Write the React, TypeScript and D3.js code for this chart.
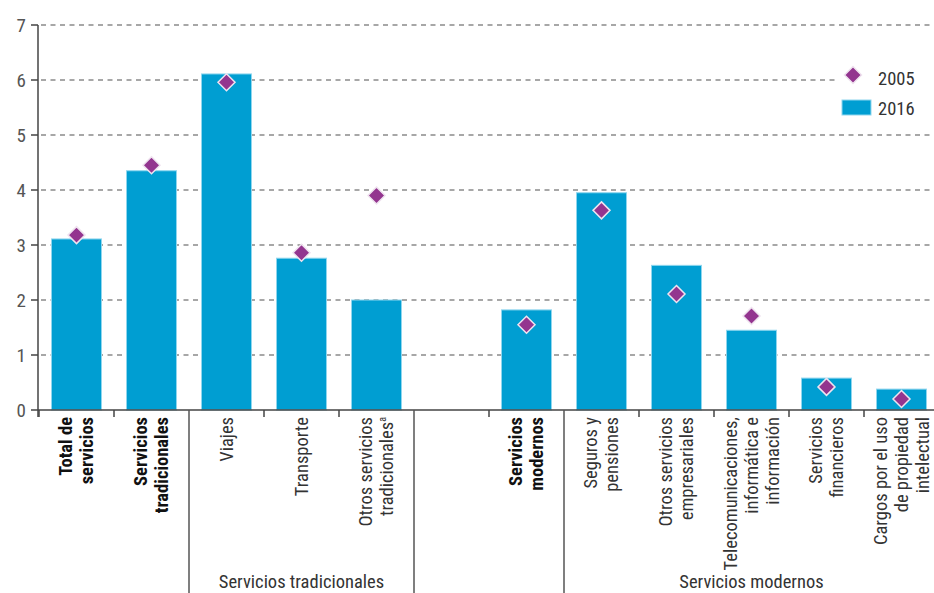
import React from "react";
import * as d3 from "d3";

const categories: string[][] = [
  ["Total de", "servicios"],
  ["Servicios", "tradicionales"],
  ["Viajes"],
  ["Transporte"],
  ["Otros servicios", "tradicionales"],
  [],
  ["Servicios", "modernos"],
  ["Seguros y", "pensiones"],
  ["Otros servicios", "empresariales"],
  ["Telecomunicaciones,", "informática e", "información"],
  ["Servicios", "financieros"],
  ["Cargos por el uso", "de propiedad", "intelectual"],
];
const boldCats = [true, true, false, false, false, false, true, false, false, false, false, false];
const superscripts = ["", "", "", "", "a", "", "", "", "", "", "", ""];
const values2016: (number | null)[] = [3.11, 4.35, 6.11, 2.76, 2.0, null, 1.82, 3.95, 2.63, 1.45, 0.58, 0.38];
const values2005: (number | null)[] = [3.18, 4.45, 5.96, 2.86, 3.9, null, 1.55, 3.63, 2.11, 1.71, 0.42, 0.2];
const yTicks = [0, 1, 2, 3, 4, 5, 6, 7];
const groupLabels = ["Servicios tradicionales", "Servicios modernos"];
const groupRanges = [[2, 5], [7, 12]];
const separators = [2, 5, 7];
const legendLabels = ["2005", "2016"];

const W = 934;
const H = 593;
const FONT = "'Liberation Sans Narrow', 'Roboto Condensed', 'Arial Narrow', sans-serif";
const BAR = "#009ed2";
const DIAM = "#93358f";

export default function App() {
  const keys = categories.map((_, i) => String(i));
  const x = d3.scaleBand<string>().domain(keys).range([39, 939]).paddingInner(1 / 3).paddingOuter(1 / 6);
  const y = d3.scaleLinear().domain([0, 7]).range([410, 25]);
  const step = x.step();
  const bw = x.bandwidth();
  const left = 39;
  const boundary = (i: number) => left + i * step;
  const ds = 8.5;

  return (
    <svg width={W} height={H} style={{ position: "absolute", left: 0, top: 0, background: "#fff" }} fontFamily={FONT}>
      {/* gridlines */}
      {yTicks.filter((t) => t > 0).map((t) => (
        <line key={"g" + t} x1={left + 2} x2={W} y1={y(t)} y2={y(t)} stroke="#8a8a8a" strokeWidth={1.5} strokeDasharray="5,4.5" />
      ))}
      {/* y axis */}
      <line x1={left - 1} x2={left - 1} y1={y(7)} y2={417} stroke="#444" strokeWidth={1.5} />
      {yTicks.map((t) => (
        <g key={"t" + t}>
          <line x1={left - 8} x2={left - 1} y1={y(t)} y2={y(t)} stroke="#444" strokeWidth={1.5} />
          <text x={26} y={y(t) + 6.5} textAnchor="end" fontSize={19} fill="#555">{t}</text>
        </g>
      ))}
      {/* bars */}
      {values2016.map((v, i) =>
        v == null ? null : (
          <rect key={"b" + i} x={x(keys[i])} y={y(v)} width={bw} height={y(0) - y(v)} fill={BAR} stroke="#8fd6ee" strokeWidth={1} />
        )
      )}
      {/* diamonds */}
      {values2005.map((v, i) => {
        if (v == null) return null;
        const cx = (x(keys[i]) as number) + bw / 2;
        const cy = y(v);
        return (
          <path key={"d" + i} d={`M${cx},${cy - ds}L${cx + ds},${cy}L${cx},${cy + ds}L${cx - ds},${cy}Z`} fill={DIAM} stroke="#efe3ef" strokeWidth={1.5} />
        );
      })}
      {/* x axis */}
      <line x1={left - 1} x2={W} y1={y(0)} y2={y(0)} stroke="#444" strokeWidth={1.5} />
      {keys.map((_, i) =>
        separators.includes(i) ? null : (
          <line key={"xt" + i} x1={boundary(i)} x2={boundary(i)} y1={y(0)} y2={417} stroke="#444" strokeWidth={1.5} />
        )
      )}
      {separators.map((i) => (
        <line key={"s" + i} x1={boundary(i)} x2={boundary(i)} y1={y(0)} y2={593} stroke="#555" strokeWidth={1.5} />
      ))}
      {/* category labels */}
      {categories.map((lines, i) => {
        const cx = (x(keys[i]) as number) + bw / 2;
        const lh = 21;
        const n = lines.length;
        return lines.map((ln, j) => {
          const lx = cx + (j - (n - 1) / 2) * lh + 6;
          const last = j === n - 1;
          return (
            <text key={"c" + i + "_" + j} transform={`translate(${lx},417) rotate(-90)`} textAnchor="end" fontSize={18.5}
              fontWeight={boldCats[i] ? "bold" : "normal"} fill={boldCats[i] ? "#111" : "#333"}>
              {ln}
              {last && superscripts[i] ? <tspan fontSize={10} dy={-7}>{superscripts[i]}</tspan> : null}
            </text>
          );
        });
      })}
      {/* group labels */}
      {groupLabels.map((g, k) => {
        const [a, b] = groupRanges[k];
        const cx = (boundary(a) + boundary(b)) / 2;
        return (
          <text key={"gl" + k} x={cx} y={588} textAnchor="middle" fontSize={18.5} fill="#333">{g}</text>
        );
      })}
      {/* legend */}
      <rect x={838} y={60} width={92} height={62} fill="#fff" />
      <path d={`M853,${75 - ds}L${853 + ds},75L853,${75 + ds}L${853 - ds},75Z`} fill={DIAM} stroke="#efe3ef" strokeWidth={1.5} />
      <text x={878} y={85} fontSize={18.5} fill="#333">{legendLabels[0]}</text>
      <rect x={842} y={100} width={29} height={15} fill={BAR} stroke="#8fd6ee" strokeWidth={1} />
      <text x={878} y={115} fontSize={18.5} fill="#333">{legendLabels[1]}</text>
    </svg>
  );
}
